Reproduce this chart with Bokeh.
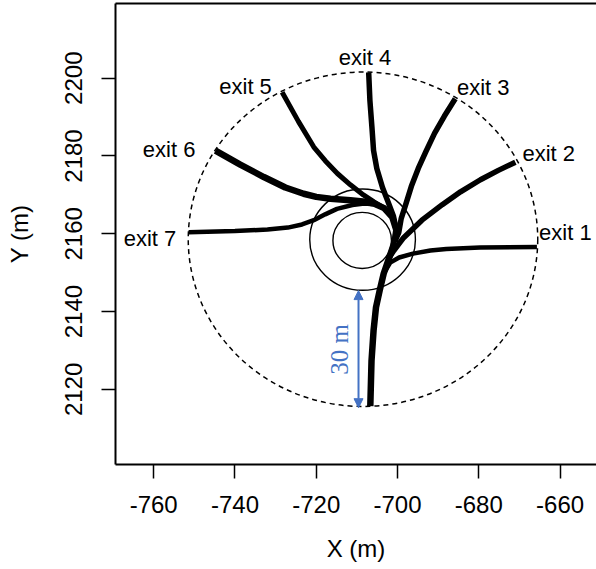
import math
from bokeh.plotting import figure
from bokeh.models import (ColumnDataSource, LinearAxis, FixedTicker, Arrow, NormalHead, Range1d)
from bokeh.core.properties import value
from bokeh.embed import file_html
from bokeh.resources import INLINE

# ---------------- data ----------------
X_TICKS = [-760, -740, -720, -700, -680, -660]
Y_TICKS = [2120, 2140, 2160, 2180, 2200]

# shared entry trunk (from the south approach)
ENTRY_X = [-706.7, -706.4, -705.9, -705.3, -704.4, -703.4, -702.0, -700.7]
ENTRY_Y = [2115.7, 2127.4, 2135.1, 2141.1, 2145.4, 2149.8, 2154.0, 2158.0]

EXIT1_X = [-703.4, -701.8, -699.6, -696.2, -691.9, -688.0, -679.7, -665.7]
EXIT1_Y = [2149.8, 2152.6, 2153.9, 2154.9, 2155.7, 2156.1, 2156.5, 2156.6]

EXIT2_X = [-702.0, -700.9, -698.5, -694.0, -689.0, -684.5, -679.6, -675.2, -671.0]
EXIT2_Y = [2154.0, 2155.7, 2159.0, 2163.5, 2167.5, 2170.8, 2173.9, 2176.3, 2178.4]

EXIT3_X = [-700.7, -699.7, -699.1, -697.9, -696.6, -694.9, -693.0, -690.9, -688.5, -685.8]
EXIT3_Y = [2158.0, 2160.3, 2163.9, 2167.8, 2172.2, 2176.8, 2181.2, 2185.8, 2190.2, 2194.7]

EXIT4_X = [-700.7, -700.3, -701.0, -702.0, -703.7, -705.1, -705.9, -706.3, -706.8, -707.1]
EXIT4_Y = [2158.0, 2161.0, 2164.5, 2167.3, 2171.9, 2176.8, 2181.4, 2187.4, 2194.3, 2201.5]

EXIT5_X = [-700.7, -700.3, -701.3, -703.3, -705.8, -708.4, -711.6, -714.8, -717.8, -720.6, -724.4, -728.4]
EXIT5_Y = [2158.0, 2161.0, 2164.3, 2166.6, 2168.2, 2170.0, 2172.6, 2175.5, 2178.8, 2182.3, 2188.9, 2196.4]

EXIT6_X = [-700.7, -700.3, -701.3, -703.3, -705.8, -708.5, -711.6, -716.5, -720.0, -723.1, -727.6, -732.9, -738.7, -744.8]
EXIT6_Y = [2158.0, 2161.0, 2164.3, 2166.6, 2167.8, 2168.3, 2168.6, 2169.0, 2169.5, 2170.3, 2171.9, 2174.6, 2177.8, 2181.4]

EXIT7_X = [-700.7, -700.3, -701.3, -703.3, -705.8, -708.2, -711.1, -714.9, -717.8, -720.6, -723.5, -727.0, -732.0, -740.0, -751.4]
EXIT7_Y = [2158.0, 2161.0, 2164.3, 2166.6, 2167.6, 2167.8, 2167.4, 2166.4, 2165.0, 2163.5, 2162.4, 2161.6, 2161.1, 2160.7, 2160.4]

EXIT_LABELS = ["exit 1", "exit 2", "exit 3", "exit 4", "exit 5", "exit 6", "exit 7"]
LABEL_X = [-658.7, -662.8, -678.9, -708.0, -737.4, -756.2, -760.9]
LABEL_Y = [2160.4, 2180.6, 2197.5, 2205.2, 2197.9, 2181.7, 2158.7]

# study-area circle (dashed) and roundabout rings
CIRCLE_X = [-708.5, -708.6, -708.7]
CIRCLE_Y = [2158.6, 2158.5, 2158.3]
CIRCLE_R = [43.0, 13.0, 7.2]

# 30 m annotation
ARROW_X = [-709.6]
ARROW_Y = [2115.3, 2145.4]
NOTE_X = [-714.2]
NOTE_Y = [2130.3]
NOTE_TEXT = ["30 m"]

# ---------------- styles ----------------
EXIT_WIDTHS = [4.5, 5.5, 5.5, 5.5, 5, 6.5, 4.5]
ENTRY_WIDTH = 6.5
BLUE = "#4472C4"
SANS = "Liberation Sans"

p = figure(width=596, height=569, output_backend="svg", toolbar_location=None,
           x_range=Range1d(-769.4, -651.04), y_range=Range1d(2100.7, 2219.2),
           frame_width=481, frame_height=461,
           min_border_left=115, min_border_right=0, min_border_top=3, min_border_bottom=105)
p.grid.visible = False
p.outline_line_color = None
p.background_fill_color = "white"
p.border_fill_color = "white"

# axes
for ax, ticks in ((p.xaxis[0], X_TICKS), (p.yaxis[0], Y_TICKS)):
    ax.ticker = FixedTicker(ticks=ticks)
    ax.major_label_overrides = {t: str(t) for t in ticks}
    ax.major_tick_out = 14
    ax.major_tick_in = 0
    ax.minor_tick_out = 0
    ax.minor_tick_in = 0
    ax.major_tick_line_width = 1.5
    ax.major_tick_line_color = "black"
    ax.axis_line_width = 2
    ax.axis_line_color = "black"
    ax.major_label_text_font = SANS
    ax.major_label_text_font_size = "24px"
    ax.major_label_text_color = "black"
    ax.axis_label_text_font = SANS
    ax.axis_label_text_font_size = "24px"
    ax.axis_label_text_font_style = "normal"
    ax.axis_label_text_color = "black"

p.xaxis.axis_label = "X (m)"
p.yaxis.axis_label = "Y (m)"
p.xaxis.major_label_standoff = 17
p.xaxis.axis_label_standoff = 19
p.yaxis.major_label_standoff = 19
p.yaxis.axis_label_standoff = 30
p.yaxis.major_label_orientation = "vertical"

top = LinearAxis(ticker=FixedTicker(ticks=[]), major_tick_out=0, major_tick_in=0,
                 minor_tick_out=0, minor_tick_in=0, axis_line_width=2,
                 axis_line_color="black", major_label_text_font_size="0px")
p.add_layout(top, "above")

# circles
p.ellipse(x=CIRCLE_X[:1], y=CIRCLE_Y[:1], width=[2 * r for r in CIRCLE_R[:1]],
          height=[2 * r for r in CIRCLE_R[:1]], fill_color=None,
          line_color="black", line_width=1.5, line_dash="5 4")
p.ellipse(x=CIRCLE_X[1:], y=CIRCLE_Y[1:], width=[2 * r for r in CIRCLE_R[1:]],
          height=[2 * r for r in CIRCLE_R[1:]], fill_color=None,
          line_color="black", line_width=1.4)

# trajectories
p.line(ENTRY_X, ENTRY_Y, line_color="black", line_width=ENTRY_WIDTH,
       line_join="round", line_cap="butt")
exits = [(EXIT1_X, EXIT1_Y), (EXIT2_X, EXIT2_Y), (EXIT3_X, EXIT3_Y), (EXIT4_X, EXIT4_Y),
         (EXIT5_X, EXIT5_Y), (EXIT6_X, EXIT6_Y), (EXIT7_X, EXIT7_Y)]
for (ex, ey), w in zip(exits, EXIT_WIDTHS):
    p.line(ex, ey, line_color="black", line_width=w, line_join="round", line_cap="butt")

# exit labels
lab = ColumnDataSource(dict(x=LABEL_X, y=LABEL_Y, t=EXIT_LABELS))
p.text(x="x", y="y", text="t", source=lab, text_font=value(SANS),
       text_font_size="22px", text_align="center", text_baseline="alphabetic",
       text_color="black")

# 30 m arrow
head = dict(size=9, fill_color=BLUE, line_color=BLUE)
p.add_layout(Arrow(start=NormalHead(**head), end=NormalHead(**head),
                   x_start=ARROW_X[0], y_start=ARROW_Y[0],
                   x_end=ARROW_X[0], y_end=ARROW_Y[1],
                   line_color=BLUE, line_width=2))
p.text(x=NOTE_X, y=NOTE_Y, text=NOTE_TEXT, angle=math.pi / 2,
       text_font=value("Liberation Serif"), text_font_size="25px",
       text_align="center", text_baseline="middle", text_color=BLUE)

open("out.html", "w").write(file_html(p, INLINE))
